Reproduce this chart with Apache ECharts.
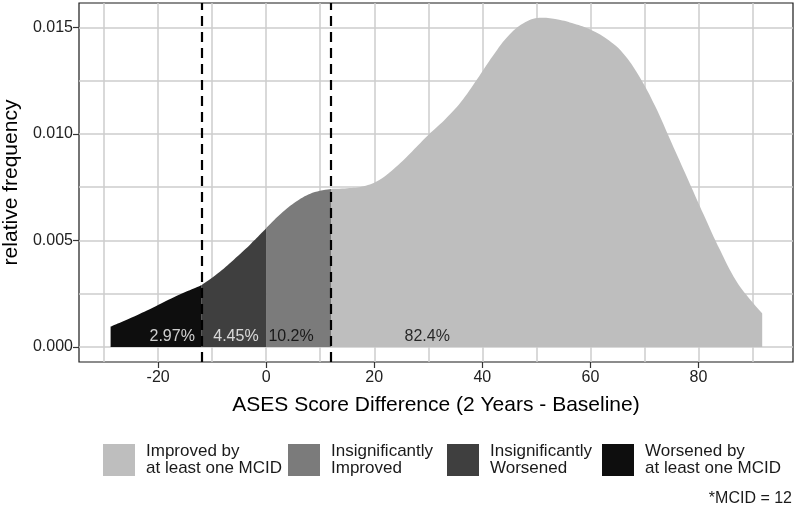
<!DOCTYPE html>
<html>
<head>
<meta charset="utf-8">
<script src="https://cdn.jsdelivr.net/npm/echarts@6/dist/echarts.min.js"></script>
<style>
html,body{margin:0;padding:0;background:#fff;}
#chart{width:797px;height:510px;}
</style>
</head>
<body>
<div id="chart"></div>
<script>
// ---- data ----
const scoreDiff = [-28.8, -25, -21, -17, -12, -9, -6, -3, 0, 3, 6, 9, 12, 15, 18, 21, 24, 27, 30, 33, 36, 39, 42, 45, 48, 51, 54, 57, 60, 63, 66, 69, 72, 75, 78, 81, 84, 87, 90, 91.8];
const density = [0.00096, 0.00138, 0.00185, 0.00235, 0.0029, 0.00345, 0.0041, 0.0048, 0.00557, 0.00632, 0.0069, 0.00727, 0.00742, 0.00745, 0.00754, 0.00785, 0.00845, 0.00918, 0.00995, 0.01065, 0.01148, 0.01255, 0.01368, 0.01465, 0.01525, 0.01545, 0.01537, 0.01517, 0.0149, 0.01446, 0.0138, 0.01272, 0.0113, 0.0096, 0.0079, 0.0062, 0.00455, 0.0031, 0.0021, 0.00158];
const mcid = 12;
const cutPoints = [-12, 0, 12];
const groupNames = ['Improved by\nat least one MCID', 'Insignificantly\nImproved', 'Insignificantly\nWorsened', 'Worsened by\nat least one MCID'];
const pctLabels = ['2.97%', '4.45%', '10.2%', '82.4%'];
const pctLabelX = [-17.4, -5.6, 4.6, 29.8];
const pctLabelY = 0.00047;
const xTicks = [-20, 0, 20, 40, 60, 80];
const yTicks = [0, 0.005, 0.010, 0.015];
const xGrid = [-30, -20, -10, 0, 10, 20, 30, 40, 50, 60, 70, 80, 90];
const yGrid = [0, 0.0025, 0.005, 0.0075, 0.010, 0.0125, 0.015];
const vLines = [-12, 12];
const xRange = [-34.65, 97.5];
const yRange = [-0.0007, 0.01614];

// ---- build ----
const pts = scoreDiff.map((x, i) => [x, density[i]]);
const ranges = {
  [groupNames[3]]: [-Infinity, cutPoints[0]],
  [groupNames[2]]: [cutPoints[0], cutPoints[1]],
  [groupNames[1]]: [cutPoints[1], cutPoints[2]],
  [groupNames[0]]: [cutPoints[2], Infinity]
};
const fills = {
  [groupNames[0]]: '#bebebe',
  [groupNames[1]]: '#7b7b7b',
  [groupNames[2]]: '#3f3f3f',
  [groupNames[3]]: '#0e0e0e'
};
const FONT = '"Liberation Sans", Arial, Helvetica, sans-serif';

const areaSeries = groupNames.map(name => ({
  type: 'line',
  name: name,
  z: 2,
  smooth: 0.4,
  showSymbol: false,
  symbol: 'none',
  silent: true,
  color: fills[name],
  itemStyle: { color: fills[name] },
  lineStyle: { width: 0, color: fills[name] },
  areaStyle: { color: fills[name], opacity: 1 },
  data: pts.filter(p => p[0] >= ranges[name][0] && p[0] <= ranges[name][1])
}));

const legendLeft = [103, 288, 447, 602];
const legends = groupNames.map((n, i) => ({
  data: [n],
  left: legendLeft[i],
  top: 443,
  padding: 0,
  orient: 'horizontal',
  icon: 'rect',
  itemWidth: 32,
  itemHeight: 32,
  selectedMode: false,
  itemStyle: { borderWidth: 0 },
  textStyle: { fontFamily: FONT, fontSize: 17, lineHeight: 17, color: '#1a1a1a', padding: [0, 0, 0, 6] }
}));

const vSeg = v => [{ coord: [v, yRange[0]] }, { coord: [v, yRange[1]] }];
const hSeg = v => [{ coord: [xRange[0], v] }, { coord: [xRange[1], v] }];

const option = {
  animation: false,
  backgroundColor: '#ffffff',
  textStyle: { fontFamily: FONT },
  grid: {
    left: 79, top: 3, right: 4, bottom: 148,
    show: true, backgroundColor: '#ffffff', borderColor: '#1a1a1a', borderWidth: 1.2,
    containLabel: false, outerBoundsMode: 'none'
  },
  title: {
    text: '*MCID = ' + mcid,
    right: 5, top: 491, padding: 0,
    textStyle: { fontFamily: FONT, fontSize: 16, fontWeight: 'normal', color: '#1a1a1a' }
  },
  legend: legends,
  xAxis: {
    type: 'value', min: xRange[0], max: xRange[1],
    name: 'ASES Score Difference (2 Years - Baseline)',
    nameLocation: 'middle', nameGap: 33,
    nameTextStyle: { fontFamily: FONT, fontSize: 21, color: '#000' },
    axisLine: { show: false, onZero: false },
    splitLine: { show: false },
    axisTick: { show: true, length: 6, customValues: xTicks, lineStyle: { color: '#333', width: 1.2 } },
    axisLabel: { customValues: xTicks, fontFamily: FONT, fontSize: 16, color: '#222', margin: 8 }
  },
  yAxis: {
    type: 'value', min: yRange[0], max: yRange[1],
    name: 'relative frequency',
    nameLocation: 'middle', nameGap: 52, nameRotate: 90,
    nameTextStyle: { fontFamily: FONT, fontSize: 21, color: '#000' },
    axisLine: { show: false, onZero: false },
    splitLine: { show: false },
    axisTick: { show: true, length: 6, customValues: yTicks, lineStyle: { color: '#333', width: 1.2 } },
    axisLabel: { customValues: yTicks, fontFamily: FONT, fontSize: 16, color: '#222', margin: 6,
      formatter: v => Number(v).toFixed(3) }
  },
  series: [
    {
      type: 'line', name: 'grid', data: [], silent: true,
      markLine: {
        z: 1, silent: true, symbol: ['none', 'none'], label: { show: false },
        lineStyle: { color: '#cdcdcd', width: 1.5, type: 'solid' },
        emphasis: { disabled: true },
        data: xGrid.map(vSeg).concat(yGrid.map(hSeg))
      }
    },
    ...areaSeries,
    {
      type: 'line', name: 'mcid', data: [], silent: true,
      markLine: {
        z: 10, silent: true, symbol: ['none', 'none'], label: { show: false },
        lineStyle: { color: '#000', width: 2.2, type: [10, 6] },
        emphasis: { disabled: true },
        data: vLines.map(vSeg)
      }
    },
    {
      type: 'scatter', name: 'pct', z: 11, silent: true,
      symbolSize: 0,
      data: pctLabelX.map((x, i) => ({
        value: [x, pctLabelY],
        label: { color: i < 2 ? '#ffffff' : '#000000' }
      })),
      label: {
        show: true, position: 'inside',
        fontFamily: FONT, fontSize: 16,
        formatter: p => pctLabels[p.dataIndex]
      }
    }
  ]
};

const chart = echarts.init(document.getElementById('chart'), null, { renderer: 'canvas' });
chart.setOption(option);
</script>
</body>
</html>
